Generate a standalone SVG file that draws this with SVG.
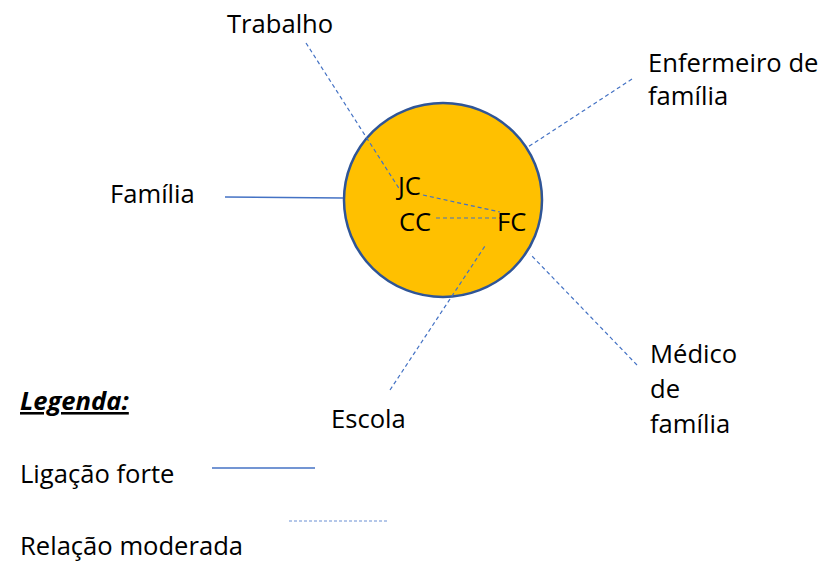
<svg xmlns="http://www.w3.org/2000/svg" width="826" height="562" viewBox="0 0 826 562">
<style>
text{font-family:"Open Sans","Liberation Sans",sans-serif;font-size:25.6px;fill:#000}
.strong{stroke:#4472C4;stroke-width:1.3;fill:none}
.mod{stroke:#4472C4;stroke-width:1.2;stroke-dasharray:4 3;fill:none}
.legmod{stroke:#6A8FD4;stroke-width:1.2;stroke-dasharray:3 2;fill:none}
</style>
<rect width="826" height="562" fill="#fff"/>
<g id="circle">
<ellipse cx="443" cy="200" rx="99" ry="97" fill="#FFC000" stroke="#2F5597" stroke-width="2.5"/>
</g>
<g id="connectors">
<line class="mod" x1="306" y1="43" x2="400" y2="190"/>
<line class="mod" x1="423" y1="195" x2="500" y2="212"/>
<line class="mod" x1="436" y1="218" x2="500" y2="218"/>
<line class="mod" x1="390" y1="390" x2="485" y2="246"/>
<line class="mod" x1="632" y1="79" x2="528" y2="147"/>
<line class="mod" x1="637" y1="365" x2="530" y2="254"/>
<line class="strong" x1="225" y1="197" x2="343" y2="198"/>
</g>
<g id="node-trabalho"><text x="227" y="33">Trabalho</text></g>
<g id="node-enfermeiro"><text x="648" y="72">Enfermeiro de</text><text x="648" y="105">família</text></g>
<g id="node-familia"><text x="110" y="203">Família</text></g>
<g id="node-medico"><text x="650" y="363">Médico</text><text x="650" y="398">de</text><text x="650" y="433">família</text></g>
<g id="node-escola"><text x="331" y="428">Escola</text></g>
<g id="node-jc"><text x="398" y="195">JC</text></g>
<g id="node-cc"><text x="399" y="231">CC</text></g>
<g id="node-fc"><text x="497" y="231">FC</text></g>
<g id="legend">
<text x="20" y="410" font-weight="bold" font-style="italic" text-decoration="underline">Legenda:</text>
<text x="20" y="483">Ligação forte</text>
<line class="strong" x1="212" y1="468" x2="315" y2="468"/>
<text x="20" y="555">Relação moderada</text>
<line class="legmod" x1="289" y1="521" x2="388" y2="521"/>
</g>
</svg>
